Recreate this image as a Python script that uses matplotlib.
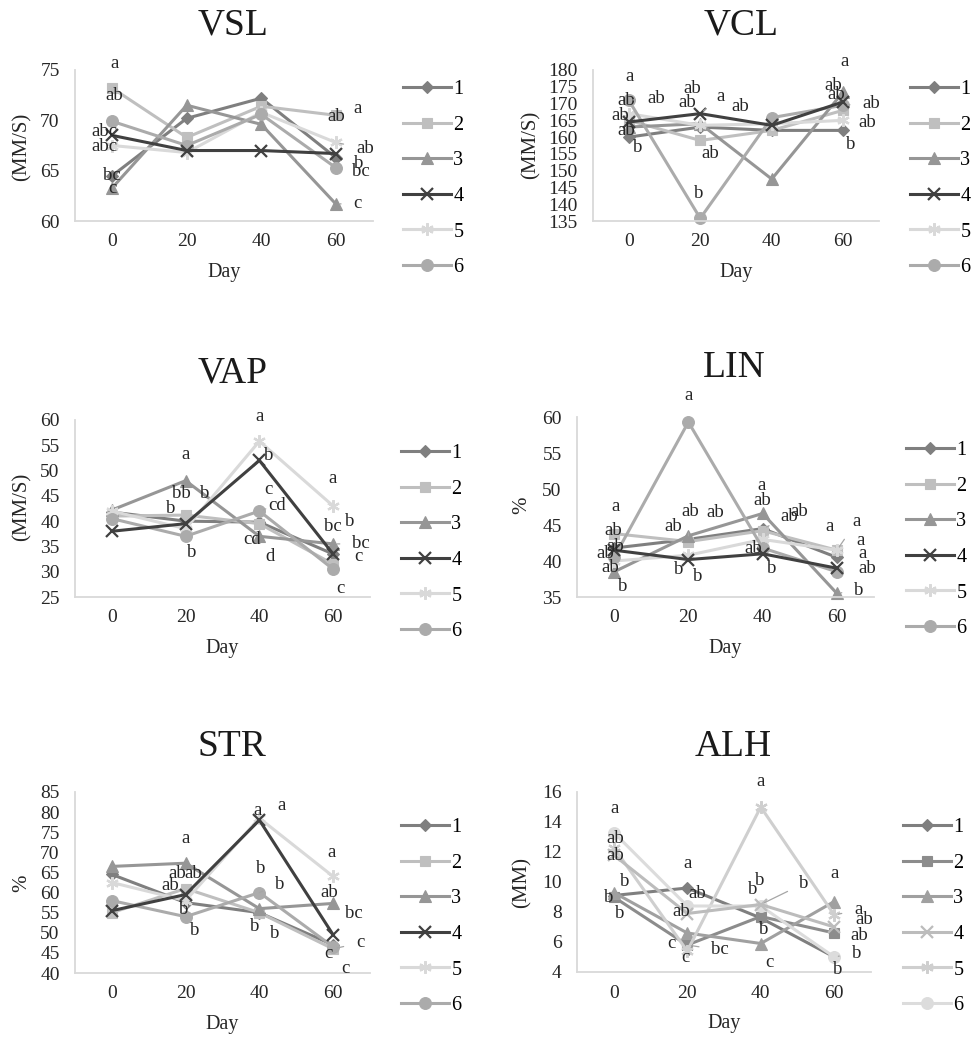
import matplotlib
matplotlib.use("Agg")
import matplotlib.pyplot as plt

# ---------------------------------------------------------------- data
DAYS = ["0", "20", "40", "60"]
GROUPS = ["1", "2", "3", "4", "5", "6"]

VSL = [
    [64.5, 70.2, 72.2, 66.3],
    [73.2, 68.3, 71.4, 70.5],
    [63.3, 71.5, 69.6, 61.7],
    [68.5, 67.0, 67.0, 66.7],
    [67.5, 66.8, 70.8, 67.8],
    [69.9, 67.5, 70.6, 65.3],
]
VCL = [
    [160.0, 163.0, 162.0, 162.0],
    [165.0, 159.0, 162.0, 168.0],
    [163.0, 164.0, 147.5, 173.5],
    [164.5, 167.0, 163.5, 170.5],
    [167.0, 163.5, 164.0, 165.0],
    [171.0, 135.8, 165.8, 169.5],
]
VAP = [
    [41.8, 40.0, 39.8, 33.5],
    [41.0, 41.2, 39.5, 31.5],
    [42.2, 48.0, 37.0, 35.5],
    [38.0, 39.5, 52.0, 33.5],
    [42.0, 38.5, 55.8, 43.0],
    [40.5, 37.0, 42.0, 30.5],
]
LIN = [
    [41.8, 43.0, 44.5, 40.5],
    [43.8, 42.7, 44.2, 41.5],
    [38.5, 43.5, 46.6, 35.5],
    [41.5, 40.2, 41.0, 39.0],
    [40.0, 40.8, 43.0, 41.5],
    [40.5, 59.3, 41.8, 38.5],
]
STR = [
    [64.5, 57.5, 55.0, 47.0],
    [55.0, 61.0, 55.0, 46.0],
    [66.5, 67.3, 56.0, 57.3],
    [55.5, 59.5, 78.0, 49.5],
    [62.5, 58.0, 78.5, 64.0],
    [58.0, 54.0, 60.0, 46.5],
]
ALH = [
    [9.1, 9.6, 7.6, 5.0],
    [9.0, 5.8, 7.7, 6.6],
    [9.3, 6.6, 5.9, 8.7],
    [11.8, 7.9, 8.5, 7.0],
    [12.3, 5.4, 15.0, 7.8],
    [13.3, 8.4, 8.4, 5.0],
]

# significance letters: (group index, day index, letter)
VSL_LETTERS = [
    (1, 0, "a"), (5, 0, "ab"), (3, 0, "abc"), (4, 0, "abc"), (0, 0, "bc"), (2, 0, "c"),
    (1, 3, "a"), (1, 3, "ab"), (4, 3, "ab"), (0, 3, "b"), (5, 3, "bc"), (2, 3, "c"),
]
VCL_LETTERS = [
    (5, 0, "a"), (5, 0, "ab"), (5, 0, "ab"), (3, 0, "ab"), (0, 0, "ab"), (0, 0, "b"),
    (3, 1, "ab"), (3, 1, "ab"), (3, 1, "a"), (4, 1, "ab"), (1, 1, "ab"), (5, 1, "b"),
    (2, 3, "a"), (2, 3, "ab"), (3, 3, "ab"), (5, 3, "ab"), (4, 3, "ab"), (0, 3, "b"),
]
VAP_LETTERS = [
    (2, 1, "a"), (2, 1, "bb"), (2, 1, "b"), (1, 1, "b"), (5, 1, "b"),
    (4, 2, "a"), (3, 2, "b"), (5, 2, "c"), (5, 2, "cd"), (2, 2, "cd"), (2, 2, "d"),
    (4, 3, "a"), (2, 3, "bc"), (2, 3, "b"), (2, 3, "bc"), (3, 3, "c"), (5, 3, "c"),
]
LIN_LETTERS = [
    (1, 0, "a"), (1, 0, "ab"), (0, 0, "ab"), (5, 0, "ab"), (2, 0, "ab"), (2, 0, "b"),
    (5, 1, "a"), (2, 1, "ab"), (2, 1, "ab"), (1, 1, "ab"), (3, 1, "b"), (3, 1, "b"),
    (2, 2, "a"), (2, 2, "ab"), (0, 2, "ab"), (2, 2, "ab"), (5, 2, "ab"), (3, 2, "b"),
    (1, 3, "a"), (1, 3, "a"), (1, 3, "a"), (0, 3, "a"), (5, 3, "ab"), (2, 3, "b"),
]
STR_LETTERS = [
    (2, 1, "a"), (2, 1, "ab"), (2, 1, "ab"), (1, 1, "ab"), (5, 1, "b"), (5, 1, "b"),
    (4, 2, "a"), (4, 2, "a"), (5, 2, "b"), (5, 2, "b"), (0, 2, "b"), (0, 2, "b"),
    (4, 3, "a"), (2, 3, "ab"), (2, 3, "bc"), (1, 3, "c"), (1, 3, "c"), (1, 3, "c"),
]
ALH_LETTERS = [
    (5, 0, "a"), (5, 0, "ab"), (3, 0, "ab"), (2, 0, "b"), (1, 0, "b"), (1, 0, "b"),
    (0, 1, "a"), (0, 1, "ab"), (3, 1, "ab"), (1, 1, "c"), (4, 1, "c"), (1, 1, "bc"),
    (4, 2, "a"), (3, 2, "b"), (3, 2, "b"), (3, 2, "b"), (0, 2, "b"), (2, 2, "c"),
    (2, 3, "a"), (4, 3, "a"), (3, 3, "ab"), (1, 3, "ab"), (5, 3, "b"), (5, 3, "b"),
]

# ---------------------------------------------------------------- layout
# letter placement: pixel offset from the point, and whether a leader line is drawn
VSL_OFFSETS = [
    (2, 25, 0), (2, 26, 0), (-8, 4, 0), (-8, -1, 0), (0, 0, 0), (0, -1, 0),
    (22, 7, 1), (0, -1, 0), (29, -6, 1), (23, -6, 0), (25, -4, 0), (22, 0, 1),
]
VCL_OFFSETS = [
    (1, 24, 0), (-2, 0, 0), (28, 2, 1), (-8, 7, 0), (-3, 7, 0), (9, -10, 0),
    (-8, 25, 0), (-13, 11, 0), (20, 17, 1), (40, 19, 0), (10, -13, 0), (-2, 25, 0),
    (1, 30, 0), (-10, 6, 0), (-7, 7, 0), (28, 2, 1), (24, -2, 0), (7, -14, 0),
]
VAP_OFFSETS = [
    (0, 26, 0), (-4, -13, 0), (19, -13, 0), (-15, 7, 0), (6, -16, 0),
    (0, 25, 0), (9, 5, 0), (9, 22, 0), (18, 6, 1), (-7, -3, 0), (11, -20, 0),
    (-1, 27, 0), (0, 17, 0), (17, 22, 0), (28, 0, 1), (25, -2, 0), (7, -19, 0),
]
LIN_OFFSETS = [
    (1, 27, 0), (-1, 3, 0), (1, 2, 0), (-9, 4, 0), (-4, 4, 0), (9, -15, 0),
    (0, 27, 0), (2, 24, 1), (27, 23, 0), (-15, 15, 0), (-10, -10, 0), (9, -17, 0),
    (-1, 28, 0), (0, 13, 0), (27, 12, 1), (37, 2, 0), (-9, 0, 0), (9, -15, 0),
    (-7, 24, 0), (20, 29, 1), (24, 10, 0), (26, 4, 0), (30, 3, 0), (22, 3, 1),
]
STR_OFFSETS = [
    (0, 25, 0), (-8, -10, 0), (8, -10, 0), (-15, 3, 0), (-2, 7, 0), (9, -14, 0),
    (-2, 8, 0), (22, 13, 0), (1, 24, 0), (20, 8, 1), (-5, -14, 0), (15, -21, 0),
    (-2, 24, 0), (-4, 11, 0), (21, -10, 0), (27, 6, 1), (-5, -5, 0), (12, -20, 0),
]
ALH_OFFSETS = [
    (1, 24, 0), (1, -6, 0), (1, -1, 0), (11, 11, 0), (-5, 0, 0), (6, -17, 0),
    (0, 25, 0), (10, -5, 0), (-6, 2, 0), (-16, 1, 0), (-2, -6, 0), (33, -5, 1),
    (0, 25, 0), (-1, 24, 0), (-8, 15, 0), (43, 21, 1), (3, -12, 0), (9, -19, 0),
    (0, 28, 0), (24, 5, 1), (30, 7, 0), (25, -3, 0), (22, 4, 1), (3, -12, 0),
]

MARKERS = ["D", "s", "^", "x", (6, 2, 0), "o"]
MSIZES = [6, 7, 8, 8, 9, 8.5]
COLORS_A = ["#7f7f7f", "#bfbfbf", "#969696", "#404040", "#d9d9d9", "#ababab"]
COLORS_B = ["#7f7f7f", "#8c8c8c", "#a0a0a0", "#bcbcbc", "#cfcfcf", "#dcdcdc"]

TEXT = "#262626"
W, H = 972, 1037
plt.rcParams["font.family"] = ["Liberation Serif", "DejaVu Serif"]

fig = plt.figure(figsize=(W / 100, H / 100), dpi=100)

PANELS = [
    # name, values, letters, offsets, ylim, ystep, ylabel, colors,
    # axes box (left, top, right, bottom px), title pos, ylabel pos, legend pos
    ("VSL", VSL, VSL_LETTERS, VSL_OFFSETS, (60, 75), 5, "(MM/S)", COLORS_A,
     (75, 70, 373, 221), (233, 25), (22, 147), (403, 80)),
    ("VCL", VCL, VCL_LETTERS, VCL_OFFSETS, (135, 180), 5, "(MM/S)", COLORS_A,
     (593, 70, 879, 221), (741, 25), (531, 145), (910, 80)),
    ("VAP", VAP, VAP_LETTERS, VAP_OFFSETS, (25, 60), 5, "(MM/S)", COLORS_A,
     (75, 420, 370, 597), (233, 373), (22, 507), (401, 444)),
    ("LIN", LIN, LIN_LETTERS, LIN_OFFSETS, (35, 60), 5, "%", COLORS_A,
     (577, 417, 874, 597), (734, 368), (522, 505), (906, 441)),
    ("STR", STR, STR_LETTERS, STR_OFFSETS, (40, 85), 5, "%", COLORS_A,
     (75, 792, 370, 973), (232, 747), (22, 883), (401, 818)),
    ("ALH", ALH, ALH_LETTERS, ALH_OFFSETS, (4, 16), 2, "(MM)", COLORS_B,
     (577, 792, 871, 972), (733, 747), (522, 882), (903, 818)),
]

x = list(range(len(DAYS)))

for (name, values, letters, offsets, ylim, ystep, ylabel, colors,
     box, tpos, ypos, lpos) in PANELS:
    left, top, right, bottom = box
    ax = fig.add_axes([left / W, 1 - bottom / H, (right - left) / W, (bottom - top) / H])

    handles = []
    for i, series in enumerate(values):
        ln, = ax.plot(x, series, color=colors[i], lw=2.2, marker=MARKERS[i],
                      markersize=MSIZES[i], markeredgewidth=1.6 if i in (3, 4) else 0.8,
                      markerfacecolor=colors[i], markeredgecolor=colors[i],
                      zorder=2 + (i == 3), clip_on=False)
        handles.append(ln)

    for (si, di, letter), (dx, dy, leader) in zip(letters, offsets):
        kw = {}
        if leader:
            kw["arrowprops"] = dict(arrowstyle="-", color="#a6a6a6", lw=0.9,
                                    shrinkA=7, shrinkB=3)
        ax.annotate(letter, xy=(di, values[si][di]), xytext=(dx, dy),
                    textcoords="offset pixels", ha="center", va="center",
                    fontsize=13.5, color=TEXT, zorder=5, **kw)

    ax.set_xlim(-0.5, len(DAYS) - 0.5)
    ax.set_ylim(*ylim)
    ax.set_xticks(x)
    ax.set_xticklabels(DAYS)
    ax.set_yticks(range(ylim[0], ylim[1] + 1, ystep))
    ax.tick_params(length=0, labelsize=14, colors=TEXT)
    ax.tick_params(axis="y", pad=11)
    ax.tick_params(axis="x", pad=9)
    for side in ("top", "right"):
        ax.spines[side].set_visible(False)
    for side in ("left", "bottom"):
        ax.spines[side].set_color("#d9d9d9")
        ax.spines[side].set_linewidth(1.3)
    ax.set_xlabel("Day", fontsize=14.5, color=TEXT, labelpad=9)
    ax.patch.set_alpha(0)

    fig.text(tpos[0] / W, 1 - tpos[1] / H, name, fontsize=27, ha="center",
             va="center", color="#1a1a1a")
    fig.text(ypos[0] / W, 1 - ypos[1] / H, ylabel, fontsize=15, rotation=90,
             ha="center", va="center", color=TEXT)

    ax.legend(handles, GROUPS, loc="upper left",
              bbox_to_anchor=(lpos[0] / W, 1 - lpos[1] / H),
              bbox_transform=fig.transFigure, frameon=False, fontsize=14.5,
              handlelength=2.4, handletextpad=0.1, labelspacing=0.82,
              borderpad=0, borderaxespad=0)

fig.savefig("out.png", dpi=100)
